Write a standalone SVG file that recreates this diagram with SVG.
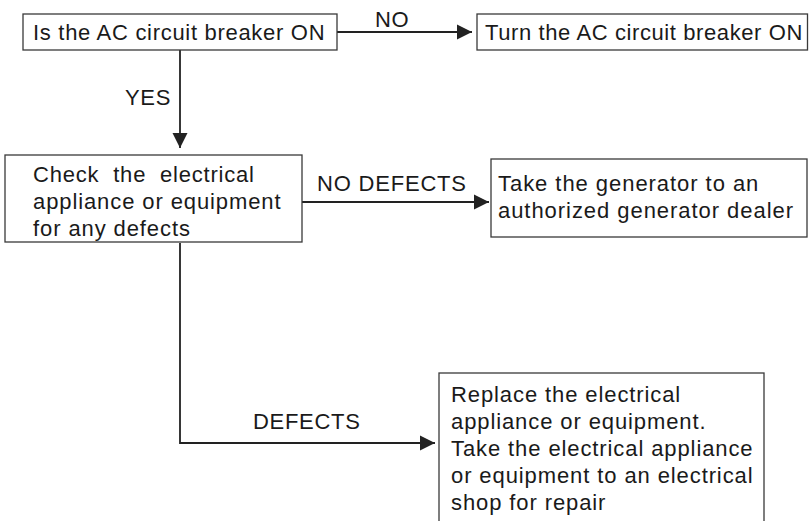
<svg xmlns="http://www.w3.org/2000/svg" width="809" height="521" viewBox="0 0 809 521">
<style>
.box{fill:#fff;stroke:#3a3a3a;stroke-width:1.3}
.t{font-family:"Liberation Sans",Arial,sans-serif;font-size:22px;letter-spacing:0.7px;fill:#1a1a1a;white-space:pre}
.w{letter-spacing:0.9px}
.c{fill:none;stroke:#222;stroke-width:1.8}
</style>
<defs>
<marker id="ah" markerUnits="userSpaceOnUse" markerWidth="16" markerHeight="16" viewBox="0 0 16 16" refX="15" refY="8" orient="auto">
<path d="M0,0.5 L15,8 L0,15.5 Z" fill="#222"/>
</marker>
</defs>
<rect width="809" height="521" fill="#fff"/>
<g id="connectors">
<path class="c" d="M337,32 H472" marker-end="url(#ah)"/>
<path class="c" d="M180,50 V148" marker-end="url(#ah)"/>
<path class="c" d="M302,202 H489" marker-end="url(#ah)"/>
<path class="c" d="M180,243 V443 H435" marker-end="url(#ah)"/>
<text class="t" x="375" y="27">NO</text>
<text class="t" x="125" y="105">YES</text>
<text class="t" x="317" y="191" style="letter-spacing:0.8px">NO DEFECTS</text>
<text class="t" x="253" y="429">DEFECTS</text>
</g>
<g id="q1">
<rect class="box" x="23" y="14" width="314" height="36"/>
<text class="t" x="33" y="40">Is the AC circuit breaker ON</text>
</g>
<g id="turn-on">
<rect class="box" x="477" y="14" width="330.5" height="36"/>
<text class="t" x="485" y="40" style="letter-spacing:0.6px">Turn the AC circuit breaker ON</text>
</g>
<g id="check">
<rect class="box" x="5" y="155" width="297" height="87"/>
<text class="t w" x="33" y="182" style="letter-spacing:0.8px">Check  the  electrical</text>
<text class="t w" x="33" y="209">appliance or equipment</text>
<text class="t w" x="33" y="236">for any defects</text>
</g>
<g id="dealer">
<rect class="box" x="491" y="159" width="316" height="78"/>
<text class="t" x="498" y="191" style="letter-spacing:0.95px">Take the generator to an</text>
<text class="t" x="498" y="218" style="letter-spacing:0.95px">authorized generator dealer</text>
</g>
<g id="replace">
<rect class="box" x="439" y="373" width="325" height="170"/>
<text class="t w" x="451" y="402">Replace the electrical</text>
<text class="t w" x="451" y="429">appliance or equipment.</text>
<text class="t w" x="451" y="456">Take the electrical appliance</text>
<text class="t w" x="451" y="483">or equipment to an electrical</text>
<text class="t w" x="451" y="510">shop for repair</text>
</g>
</svg>
